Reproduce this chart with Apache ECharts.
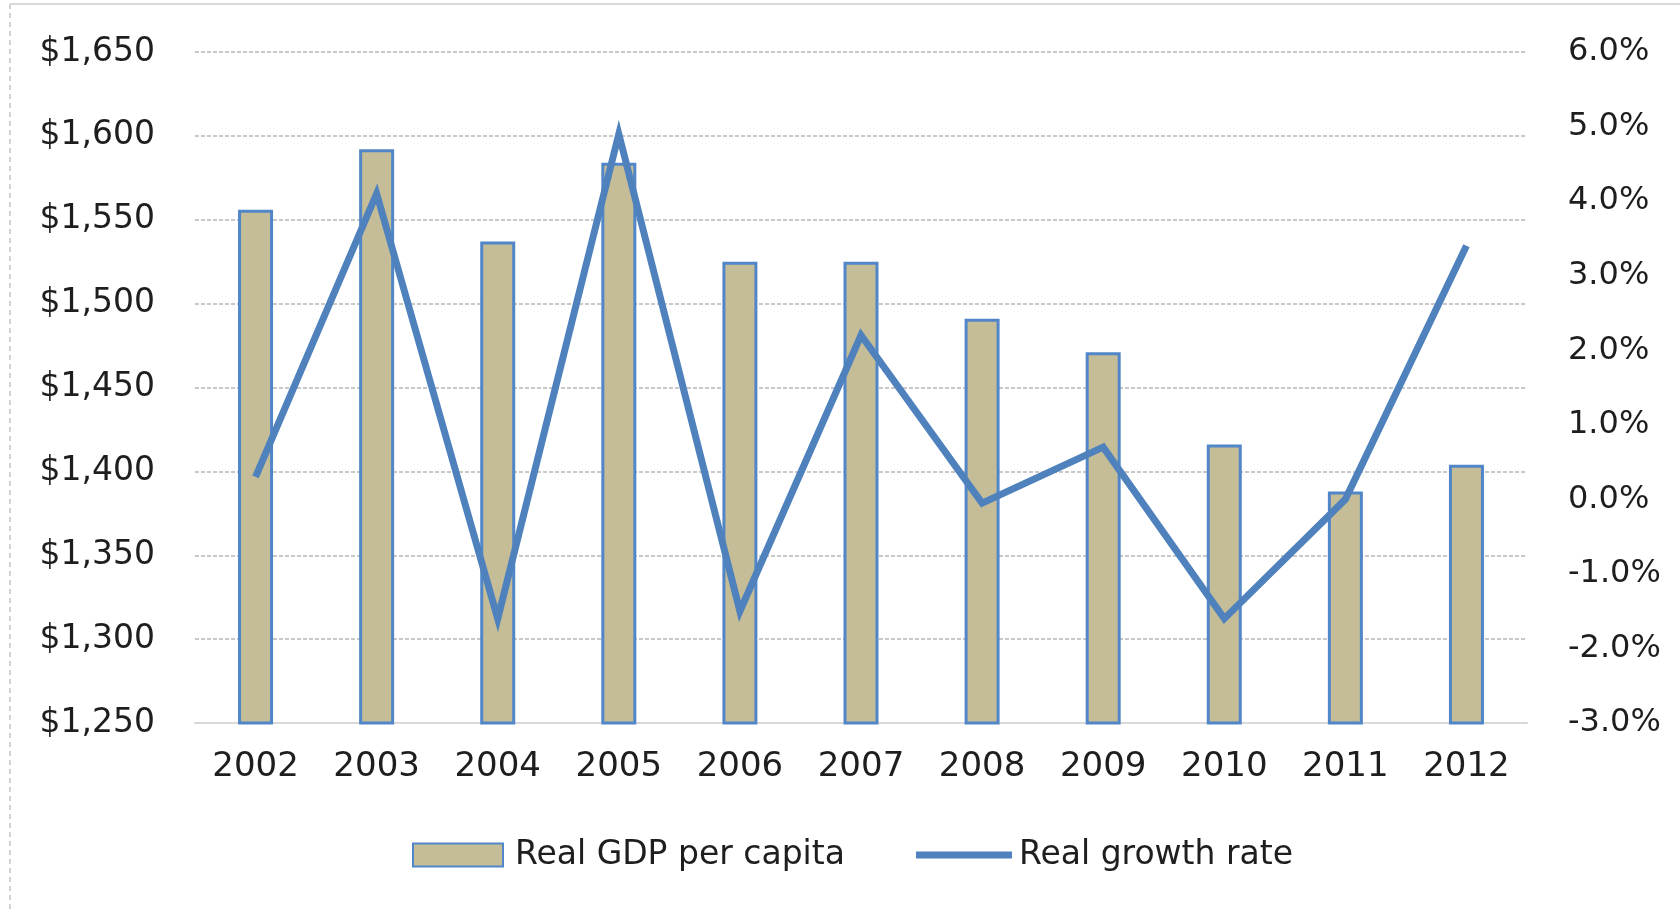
<!DOCTYPE html>
<html>
<head>
<meta charset="utf-8">
<script src="https://cdn.jsdelivr.net/npm/echarts@6/dist/echarts.min.js"></script>
<style>
  html, body { margin: 0; padding: 0; background: #ffffff; }
  #chart { width: 1680px; height: 912px; }
</style>
</head>
<body>
<div id="chart"></div>
<script>
const years = ['2002', '2003', '2004', '2005', '2006', '2007', '2008', '2009', '2010', '2011', '2012'];
const gdpPerCapita = [1556, 1592, 1537, 1584, 1525, 1525, 1491, 1471, 1416, 1388, 1404];
const growthRate = [0.3, 4.1, -1.6, 4.9, -1.5, 2.2, -0.05, 0.7, -1.6, 0.0, 3.4];
const leftTicks = { min: 1250, max: 1650, interval: 50 };
const rightTicks = { min: -3, max: 6, interval: 1 };

const FONT = 'DejaVu Sans';
const TEXT = '#1e1e1e';
const BLUE = '#4F81BD';
const BAR_BORDER = '#5186C8';
const TAN = '#C4BD97';

function dollar(v) {
  const s = String(Math.round(v));
  return '$' + s.replace(/\B(?=(\d{3})+(?!\d))/g, ',');
}

const legendText = { fontFamily: FONT, fontSize: 33, color: TEXT, lineHeight: 40, padding: [0, 0, 0, 7] };

const chart = echarts.init(document.getElementById('chart'), null, { renderer: 'canvas' });
chart.setOption({
  backgroundColor: '#ffffff',
  animation: false,
  graphic: [
    { type: 'line', silent: true, shape: { x1: 10, y1: 4, x2: 1680, y2: 4 },
      style: { stroke: '#D9D9D9', lineWidth: 2 } },
    { type: 'line', silent: true, shape: { x1: 10, y1: 4, x2: 10, y2: 912 },
      style: { stroke: '#D4D4D4', lineWidth: 2, lineDash: [5, 4] } }
  ],
  grid: { left: 195, right: 153, top: 52, bottom: 189, containLabel: false },
  legend: [
    {
      left: 412, top: 835, padding: 0,
      itemWidth: 90, itemHeight: 23,
      icon: 'rect',
      textStyle: legendText,
      data: ['Real GDP per capita']
    },
    {
      left: 916, top: 835, padding: 0,
      itemWidth: 96, itemHeight: 7,
      icon: 'rect',
      itemStyle: { color: BLUE, borderWidth: 0 },
      textStyle: Object.assign({}, legendText, { padding: [0, 0, 0, 2] }),
      data: ['Real growth rate']
    }
  ],
  xAxis: {
    type: 'category',
    data: years,
    axisTick: { show: false },
    axisLine: { show: true, onZero: false, lineStyle: { color: '#D9D9D9', width: 2 } },
    axisLabel: { fontFamily: FONT, fontSize: 34, color: TEXT, margin: 27, lineHeight: 34 }
  },
  yAxis: [
    {
      type: 'value',
      min: leftTicks.min, max: leftTicks.max, interval: leftTicks.interval,
      axisLine: { show: false }, axisTick: { show: false },
      splitLine: { show: true, lineStyle: { color: '#C8C8C8', width: 2, type: [4, 2] } },
      axisLabel: { fontFamily: FONT, fontSize: 33, color: TEXT, margin: 40, formatter: dollar, padding: [0, 0, 8, 0] }
    },
    {
      type: 'value',
      min: rightTicks.min, max: rightTicks.max, interval: rightTicks.interval,
      axisLine: { show: false }, axisTick: { show: false },
      splitLine: { show: false },
      axisLabel: { fontFamily: FONT, fontSize: 32, color: TEXT, margin: 41, align: 'left', padding: [0, 0, 7, 0],
        formatter: v => v.toFixed(1) + '%' }
    }
  ],
  series: [
    {
      name: 'Real GDP per capita',
      type: 'bar',
      yAxisIndex: 0,
      data: gdpPerCapita,
      barWidth: 35,
      itemStyle: { color: TAN, borderColor: BAR_BORDER, borderWidth: 3 }
    },
    {
      name: 'Real growth rate',
      type: 'line',
      yAxisIndex: 1,
      data: growthRate,
      symbol: 'none',
      smooth: false,
      itemStyle: { color: BLUE },
      lineStyle: { color: BLUE, width: 7, join: 'miter', miterLimit: 10 }
    }
  ]
});
</script>
</body>
</html>
